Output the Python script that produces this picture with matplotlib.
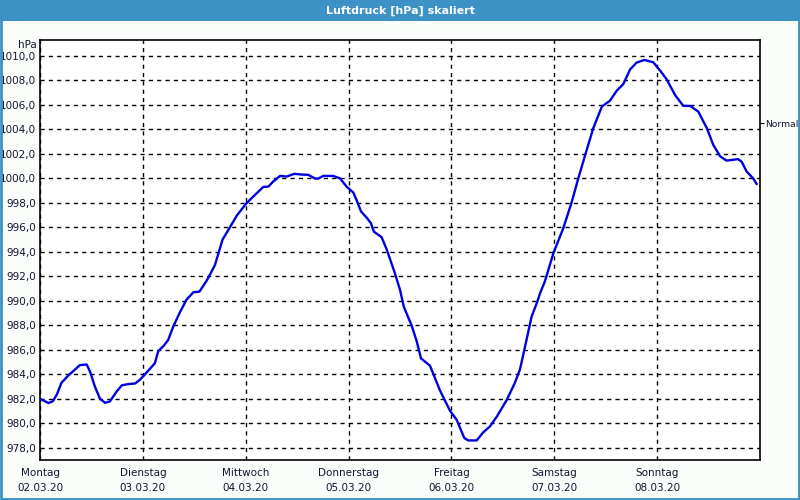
import matplotlib
matplotlib.use("Agg")
import matplotlib.pyplot as plt
from matplotlib.patches import Rectangle

# Luftdruck data, hours since Montag 02.03.20 00:00
hours = [0, 2, 3, 4, 5, 6.6, 8.2, 9.3, 10.9, 11.7, 12.8, 14, 15.2, 16.3, 17.9,
         19.1, 20.6, 22.2, 23.3, 24.5, 26.8, 27.6, 28.8, 29.9, 31.1, 32.7, 34.2,
         35.8, 37.2, 38.9, 40.8, 42, 42.6, 44.3, 46, 48.2, 50.6, 52.1, 53.3,
         54.4, 56, 57.6, 59.3, 61.1, 62.6, 64.2, 64.9, 66.1, 68.4, 70, 71.6,
         73.1, 73.9, 74.9, 76.2, 77.2, 77.9, 79.7, 80.9, 82.8, 84, 84.9, 86.7,
         87.9, 88.9, 91, 93.3, 95.7, 97.2, 99, 99.9, 101.9, 103.4, 105, 106.6,
         108.9, 110.8, 112, 113.2, 114.7, 115.9, 116.7, 117.8, 119.8, 122.1,
         124.1, 125.6, 127.2, 129.1, 131.1, 133, 134.6, 136.1, 137.7, 139.2,
         141, 143.1, 144.7, 146.2, 148.2, 150.1, 151.7, 153.6, 155.6, 157.1,
         158.7, 160.2, 162.9, 163.7, 164.9, 166.4, 167.2]
pressure = [982.0, 981.65, 981.8, 982.4, 983.3, 983.9, 984.4, 984.75, 984.8,
            984.2, 983.0, 982.0, 981.67, 981.78, 982.6, 983.1, 983.2, 983.25,
            983.55, 984.0, 984.9, 985.9, 986.3, 986.8, 987.9, 989.1, 990.1,
            990.7, 990.75, 991.65, 992.9, 994.3, 995.0, 996.0, 997.0, 997.98,
            998.8, 999.3, 999.33, 999.74, 1000.2, 1000.15, 1000.37, 1000.31,
            1000.29, 999.98, 999.98, 1000.2, 1000.2, 1000.0, 999.3, 998.85,
            998.2, 997.3, 996.8, 996.35, 995.65, 995.2, 994.2, 992.26, 990.9,
            989.5, 988.0, 986.7, 985.3, 984.7, 982.7, 981.0, 980.3, 978.8,
            978.6, 978.6, 979.25, 979.75, 980.55, 981.9, 983.3, 984.4, 986.3,
            988.7, 989.8, 990.63, 991.58, 993.9, 995.93, 998.1, 1000.0, 1001.9,
            1004.1, 1005.86, 1006.35, 1007.17, 1007.7, 1008.9, 1009.45, 1009.67,
            1009.48, 1008.8, 1008.1, 1006.8, 1005.92, 1005.92, 1005.45, 1004.1,
            1002.73, 1001.8, 1001.45, 1001.57, 1001.37, 1000.55, 1000.0, 999.55]

day_names = ["Montag", "Dienstag", "Mittwoch", "Donnerstag", "Freitag", "Samstag", "Sonntag"]
dates = ["02.03.20", "03.03.20", "04.03.20", "05.03.20", "06.03.20", "07.03.20", "08.03.20"]
y_ticks = list(range(978, 1011, 2))
normal = 1004.5

title_blue = "#3c92c4"
text_col = "#141430"

fig = plt.figure(figsize=(8, 5), dpi=100)
fig.patch.set_facecolor("#fbfdfb")

# window frame: title bar + thin border
fig.patches.append(Rectangle((0, 0.959), 1, 0.041, transform=fig.transFigure,
                             facecolor=title_blue, edgecolor="none", zorder=0))
fig.patches.append(Rectangle((0.001, 0.003), 0.9975, 0.96, transform=fig.transFigure,
                             facecolor="none", edgecolor=title_blue, linewidth=2, zorder=0))
fig.text(0.5, 0.979, "Luftdruck [hPa] skaliert", color="white", fontsize=8,
         fontweight="bold", ha="center", va="center")

ax = fig.add_axes([0.05, 0.08, 0.9, 0.84])
ax.set_facecolor("white")
ax.plot(hours, pressure, color="#0000e0", linewidth=1.7, zorder=3)

ax.set_xlim(0, 168)
ax.set_ylim(977.0, 1011.3)

ax.set_xticks([24 * i for i in range(7)])
ax.set_xticklabels([d + "\n" + dt for d, dt in zip(day_names, dates)],
                   fontsize=7.5, color=text_col, linespacing=1.55)
ax.set_yticks(y_ticks)
ax.set_yticklabels([("%.1f" % v).replace(".", ",") for v in y_ticks],
                   fontsize=7.5, color=text_col)
ax.tick_params(axis="both", length=0)
ax.tick_params(axis="x", pad=6)
ax.tick_params(axis="y", pad=3)

ax.grid(True, color="black", linestyle=(0, (3, 3)), linewidth=1)
for s in ax.spines.values():
    s.set_linewidth(1.2)
    s.set_color("black")

ax.text(-0.004, 1.0, "hPa", transform=ax.transAxes, fontsize=7.5, color=text_col,
        ha="right", va="top")

ax2 = ax.twinx()
ax2.set_ylim(ax.get_ylim())
ax2.set_yticks([normal])
ax2.set_yticklabels(["Normal"], fontsize=6.6, color=text_col)
ax2.tick_params(axis="y", length=3, pad=0.5)
for s in ax2.spines.values():
    s.set_visible(False)

fig.savefig("out.png", dpi=100, facecolor=fig.get_facecolor())
